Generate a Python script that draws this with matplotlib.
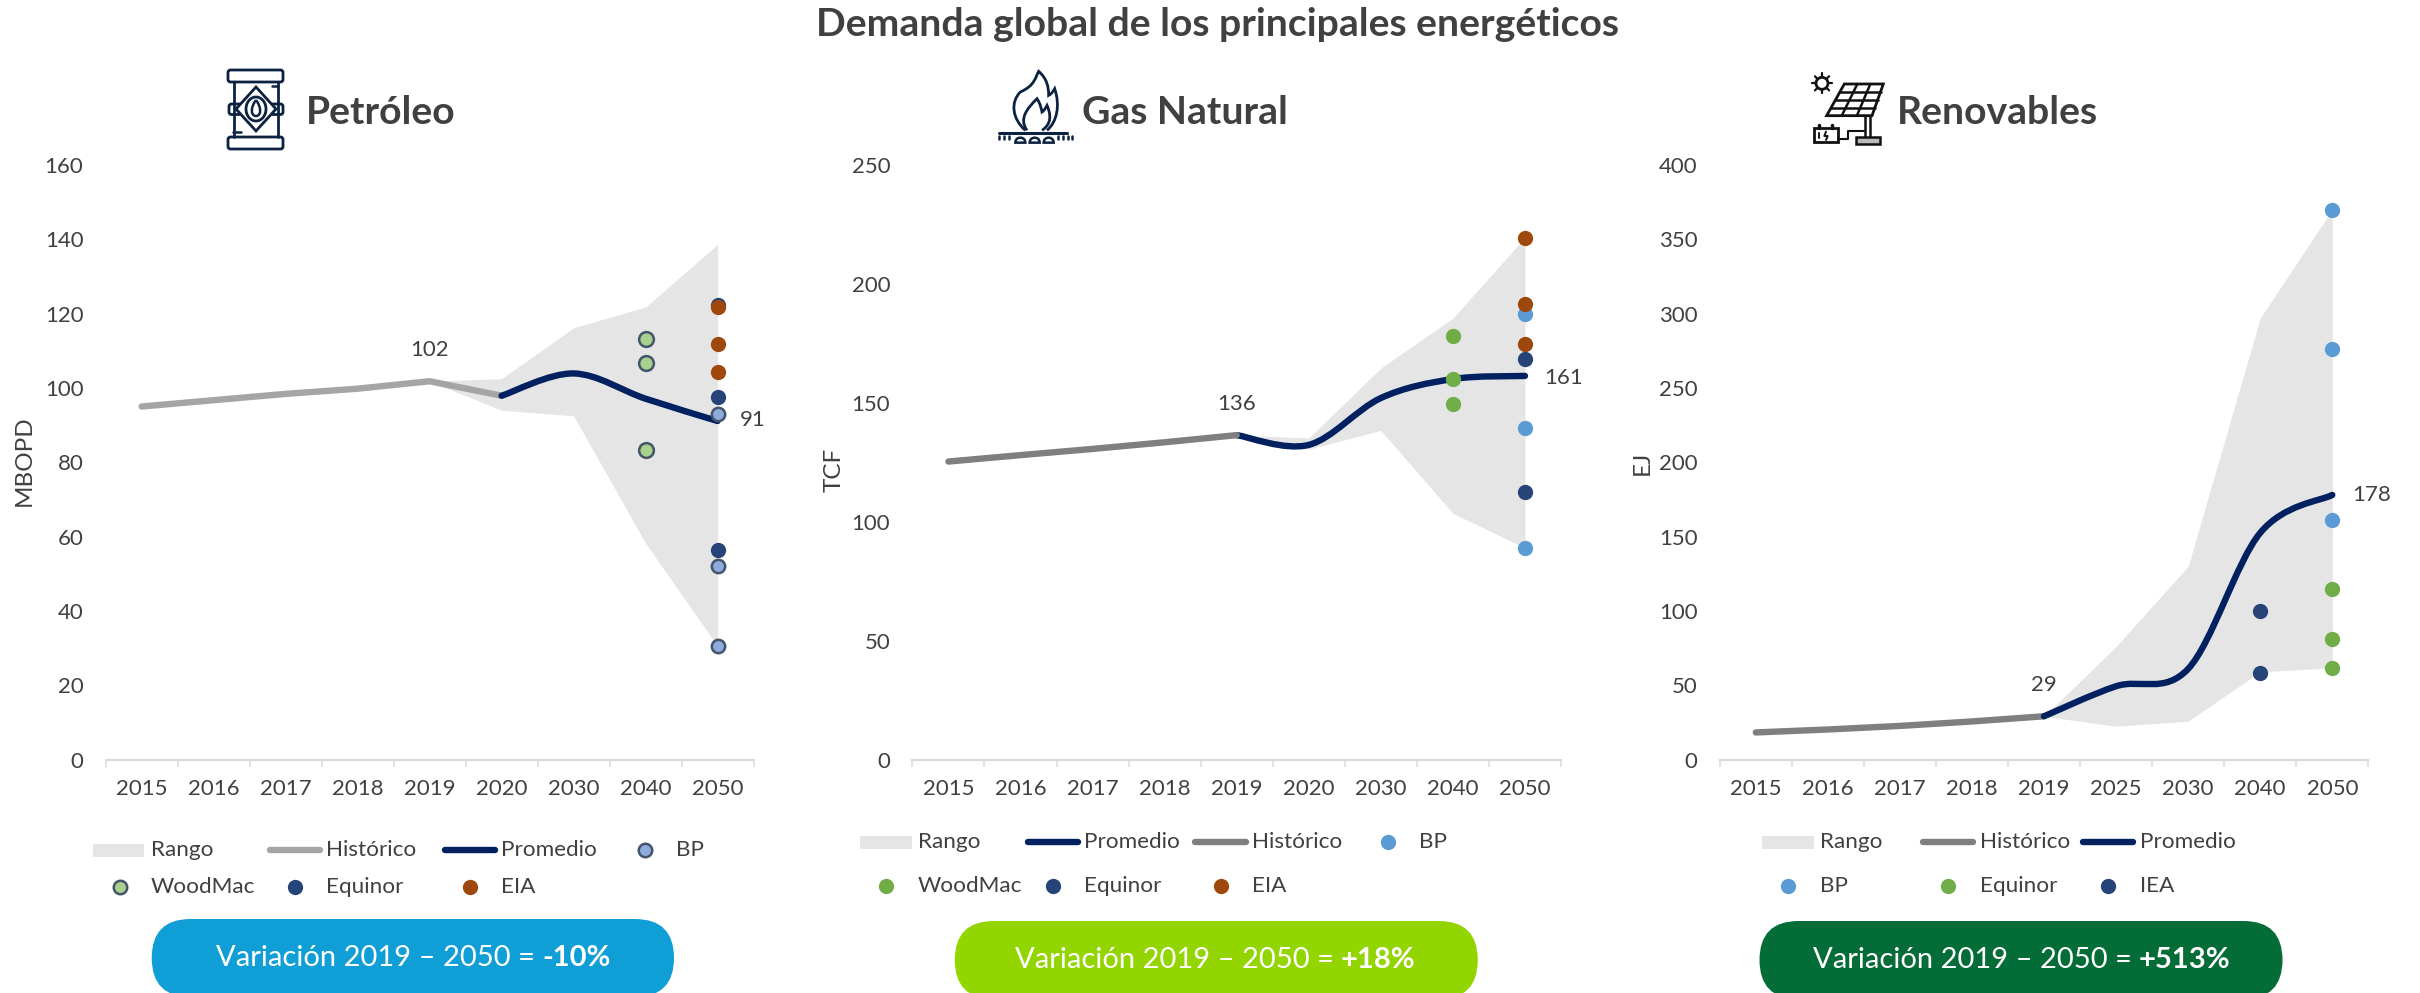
import matplotlib
matplotlib.use("Agg")
import matplotlib.pyplot as plt
from matplotlib.path import Path
from matplotlib.patches import PathPatch, FancyBboxPatch, Rectangle, Circle, Polygon, Ellipse
import numpy as np

plt.rcParams['font.family'] = ['Lato', 'DejaVu Sans']

# ---------- data ----------
cats_a = ['2015', '2016', '2017', '2018', '2019', '2020', '2030', '2040', '2050']
cats_c = ['2015', '2016', '2017', '2018', '2019', '2025', '2030', '2040', '2050']

oil_hist = [95.0, 96.7, 98.4, 99.8, 101.8, 97.9]
oil_prom = [97.9, 103.9, 97.1, 91.1]
oil_hi = [101.8, 102.5, 116.2, 121.8, 138.6]
oil_lo = [101.8, 94.0, 92.5, 58.2, 30.5]
oil_bp = [93.1, 52.1, 30.6]
oil_wm = [113.3, 106.6, 83.2]
oil_eq = [122.2, 97.6, 56.4]
oil_eia = [121.8, 111.7, 104.4]

gas_hist = [125.3, 128.0, 130.6, 133.4, 136.4]
gas_prom = [136.4, 132.3, 152.0, 160.0, 161.3]
gas_hi = [136.4, 135.2, 164.6, 185.6, 219.5]
gas_lo = [136.4, 130.5, 138.4, 103.5, 89.0]
gas_bp = [187.4, 139.5, 89.0]
gas_wm = [178.3, 160.0, 149.4]
gas_eq = [168.5, 112.5]
gas_eia = [219.5, 191.5, 174.7]

ren_hist = [18.2, 20.2, 22.6, 25.6, 29.1]
ren_prom = [29.1, 49.3, 61.0, 152.5, 178.0]
ren_hi = [29.1, 76.0, 130.0, 297.0, 370.0]
ren_lo = [29.1, 22.4, 25.8, 59.0, 61.7]
ren_bp = [369.9, 276.5, 161.0]
ren_eq = [114.8, 81.0, 61.7]
ren_iea = [100.0, 58.5]

# ---------- style ----------
W, H = 2420, 993
TXT = '#404040'
NAVY = '#002060'
FILL = '#E5E5E5'
BP1 = '#8FAADC'; WM1 = '#A9D18E'; EDGE = '#44546A'
BLUE = '#5B9BD5'; GREEN = '#70AD47'; DARK = '#264478'; RUST = '#9E480E'
px = 0.72  # points per pixel at dpi 100
TICK = 16; LEG = 16.2

fig = plt.figure(figsize=(W / 100, H / 100), dpi=100, facecolor='white')


def make_axes(x0, x1, ymax, step, cats, ylabel, ylabel_x, ylabel_y):
    top, bot = 165, 759.5
    ax = fig.add_axes([x0 / W, 1 - bot / H, (x1 - x0) / W, (bot - top) / H])
    ax.patch.set_alpha(0)
    ax.set_xlim(-0.5, 8.5)
    ax.set_ylim(0, ymax)
    for s in ['top', 'right', 'left']:
        ax.spines[s].set_visible(False)
    ax.spines['bottom'].set_color('#D9D9D9')
    ax.spines['bottom'].set_linewidth(2 * px)
    ax.set_xticks(np.arange(-0.5, 9, 1))
    ax.set_xticklabels([])
    ax.set_xticks(np.arange(9), minor=True)
    ax.set_xticklabels(cats, minor=True, fontsize=TICK, color=TXT)
    ax.tick_params(axis='x', which='major', length=7 * px, width=1.5 * px, color='#D9D9D9')
    ax.tick_params(axis='x', which='minor', length=0, pad=14)
    ax.set_yticks(np.arange(0, ymax + 1, step))
    ax.tick_params(axis='y', length=0, pad=16, labelsize=TICK, labelcolor=TXT)
    fig.text(ylabel_x / W, 1 - ylabel_y / H, ylabel, rotation=90, ha='center', va='center',
             fontsize=17.5, color=TXT)
    return ax


def smooth(ax, xs, ys, **kw):
    """Excel-style smoothed line: cubic Bezier segments through the data points."""
    P = np.column_stack([xs, ys]).astype(float)
    verts = [P[0]]
    codes = [Path.MOVETO]
    n = len(P)
    for i in range(n - 1):
        p0 = P[max(i - 1, 0)]; p1 = P[i]; p2 = P[i + 1]; p3 = P[min(i + 2, n - 1)]
        verts += [p1 + (p2 - p0) / 6, p2 - (p3 - p1) / 6, p2]
        codes += [Path.CURVE4] * 3
    ax.add_patch(PathPatch(Path(verts, codes), fill=False, capstyle='round', **kw))


def pts(ax, x, y, color, edge=None, z=5, ms=None):
    if edge:
        ax.plot(x, y, ls='', marker='o', ms=ms, mfc=color, mec=edge, mew=1.8, zorder=z, clip_on=False)
    else:
        ax.plot(x, y, ls='', marker='o', ms=11, mfc=color, mec='none', zorder=z, clip_on=False)


# --- oil
a1 = make_axes(105.6, 753.6, 160, 20, cats_a, 'MBOPD', 24, 461)
a1.fill_between([4, 5, 6, 7, 8], oil_lo, oil_hi, color=FILL, lw=0, zorder=1)
a1.plot(range(6), oil_hist, color='#A5A5A5', lw=4.6, solid_capstyle='round', zorder=2)
smooth(a1, [5, 6, 7, 8], oil_prom, color=NAVY, lw=4.6, zorder=3)
pts(a1, [8, 8, 8], oil_eq, DARK, z=4)
pts(a1, [8, 8, 8], oil_eia, RUST, z=5)
pts(a1, [7, 7, 7], oil_wm, WM1, EDGE, z=6, ms=10.6)
pts(a1, [8, 8, 8], oil_bp, BP1, EDGE, z=7, ms=9.6)
a1.annotate('102', (4, oil_hist[4]), xytext=(0, 31 * px), textcoords='offset points',
            ha='center', va='center', fontsize=TICK, color=TXT)
a1.annotate('91', (8, oil_prom[3]), xytext=(35 * px, 1 * px), textcoords='offset points',
            ha='center', va='center', fontsize=TICK, color=TXT)

# --- gas
a2 = make_axes(912.4, 1561, 250, 50, cats_a, 'TCF', 834, 470)
a2.fill_between([4, 5, 6, 7, 8], gas_lo, gas_hi, color=FILL, lw=0, zorder=1)
a2.plot(range(5), gas_hist, color='#7F7F7F', lw=4.6, solid_capstyle='round', zorder=3)
smooth(a2, [4, 5, 6, 7, 8], gas_prom, color=NAVY, lw=4.6, zorder=2)
pts(a2, [8, 8, 8], gas_bp, BLUE, z=4)
pts(a2, [7, 7, 7], gas_wm, GREEN, z=5)
pts(a2, [8, 8, 8], gas_eia, RUST, z=6)
pts(a2, [8, 8], gas_eq, DARK, z=7)
a2.annotate('136', (4, gas_hist[4]), xytext=(0, 31 * px), textcoords='offset points',
            ha='center', va='center', fontsize=TICK, color=TXT)
a2.annotate('161', (8, gas_prom[4]), xytext=(39 * px, -2 * px), textcoords='offset points',
            ha='center', va='center', fontsize=TICK, color=TXT)

# --- renewables
a3 = make_axes(1719.8, 2368.3, 400, 50, cats_c, 'EJ', 1642, 463)
a3.fill_between([4, 5, 6, 7, 8], ren_lo, ren_hi, color=FILL, lw=0, zorder=1)
a3.plot(range(5), ren_hist, color='#7F7F7F', lw=4.6, solid_capstyle='round', zorder=2)
smooth(a3, [4, 5, 6, 7, 8], ren_prom, color=NAVY, lw=4.6, zorder=3)
pts(a3, [8, 8, 8], ren_bp, BLUE, z=4)
pts(a3, [8, 8, 8], ren_eq, GREEN, z=5)
pts(a3, [7, 7], ren_iea, DARK, z=6)
a3.annotate('29', (4, ren_hist[4]), xytext=(0, 31 * px), textcoords='offset points',
            ha='center', va='center', fontsize=TICK, color=TXT)
a3.annotate('178', (8, ren_prom[4]), xytext=(39 * px, 0), textcoords='offset points',
            ha='center', va='center', fontsize=TICK, color=TXT)

# ---------- overlay in pixel coordinates (titles, legends, pills, icons) ----------
ov = fig.add_axes([0, 0, 1, 1], zorder=20)
ov.set_xlim(0, W); ov.set_ylim(H, 0); ov.axis('off'); ov.patch.set_alpha(0)

ov.text(1217, 24, 'Demanda global de los principales energéticos', ha='center', va='center',
        fontsize=28.2, fontweight='bold', color=TXT)
for x, s in [(306, 'Petróleo'), (1082, 'Gas Natural'), (1897, 'Renovables')]:
    ov.text(x, 113, s, ha='left', va='center', fontsize=28.2, fontweight='bold', color=TXT)


def leg_patch(x0, x1, y, tx):
    ov.add_patch(Rectangle((x0, y - 6.5), x1 - x0, 13, fc=FILL, ec='none'))
    ov.text(tx, y, 'Rango', ha='left', va='center', fontsize=LEG, color=TXT)


def leg_line(x0, x1, y, tx, label, color):
    ov.plot([x0 + 3, x1 - 3], [y, y], color=color, lw=4.6, solid_capstyle='round')
    ov.text(tx, y, label, ha='left', va='center', fontsize=LEG, color=TXT)


def leg_dot(x, y, tx, label, color, edge=None):
    if edge:
        ov.plot([x], [y], ls='', marker='o', ms=9.7, mfc=color, mec=edge, mew=1.8)
    else:
        ov.plot([x], [y], ls='', marker='o', ms=11, mfc=color, mec='none')
    ov.text(tx, y, label, ha='left', va='center', fontsize=LEG, color=TXT)


# legend 1
leg_patch(93, 144, 850, 150.6)
leg_line(267, 323, 850, 326, 'Histórico', '#A5A5A5')
leg_line(442, 498, 850, 501, 'Promedio', NAVY)
leg_dot(645, 850, 676, 'BP', BP1, EDGE)
leg_dot(120, 887, 150.6, 'WoodMac', WM1, EDGE)
leg_dot(294.5, 887, 326, 'Equinor', DARK)
leg_dot(470, 887, 501, 'EIA', RUST)
# legend 2
leg_patch(860, 912, 842, 917.7)
leg_line(1025, 1081, 842, 1084.5, 'Promedio', NAVY)
leg_line(1192, 1249, 842, 1252, 'Histórico', '#7F7F7F')
leg_dot(1388, 842, 1419, 'BP', BLUE)
leg_dot(886, 886, 917.7, 'WoodMac', GREEN)
leg_dot(1053, 886, 1084.5, 'Equinor', DARK)
leg_dot(1220.5, 886, 1252, 'EIA', RUST)
# legend 3
leg_patch(1762, 1814, 842, 1820)
leg_line(1920, 1976, 842, 1980, 'Histórico', '#7F7F7F')
leg_line(2080, 2136, 842, 2140, 'Promedio', NAVY)
leg_dot(1788, 886, 1820, 'BP', BLUE)
leg_dot(1948, 886, 1980, 'Equinor', GREEN)
leg_dot(2108, 886, 2140, 'IEA', DARK)


def pill(x0, x1, y0, color, split, bold, yc):
    y1 = y0 + 78
    r = 39
    ov.add_patch(FancyBboxPatch((x0 + r, y0 + r), x1 - x0 - 2 * r, y1 - y0 - 2 * r,
                                boxstyle=f'round,pad={r},rounding_size={r}', fc=color, ec='none'))
    ov.text(split, yc, 'Variación 2019 – 2050 = ', ha='right', va='center', fontsize=21,
            color='white')
    ov.text(split, yc, bold, ha='left', va='center', fontsize=21, fontweight='bold', color='white')


pill(151.7, 674, 919, '#0F9FD6', 542, '-10%', 958)
pill(954.8, 1477.8, 921, '#93D500', 1341, '+18%', 960)
pill(1759.5, 2282.5, 921, '#046C36', 2139, '+513%', 960)

# ---------- icons (line drawings) ----------
IC = '#0B2340'
def ln(xs, ys, lw=2.0, c=IC):
    ov.plot(xs, ys, color=c, lw=lw, solid_capstyle='round', solid_joinstyle='round')


# barrel
for y in (70, 137):
    ov.add_patch(FancyBboxPatch((229.5, y + 1.5), 52, 9, boxstyle='round,pad=1.5,rounding_size=2.5',
                                fc='white', ec=IC, lw=2))
ln([233.5, 233.5], [82, 137]); ln([278, 278], [82, 137])
ov.add_patch(FancyBboxPatch((230, 105), 52, 8.5, boxstyle='round,pad=1,rounding_size=2.5',
                            fc='white', ec=IC, lw=2))
ov.add_patch(Polygon([(256, 87), (276, 109), (256, 131), (236, 109)], closed=True, fc='white', ec=IC, lw=2))
ov.add_patch(Ellipse((256, 109), 20, 24, fc='white', ec=IC, lw=2))
ov.add_patch(PathPatch(Path([(256, 100), (250, 108), (251, 116), (256, 116), (261, 116), (262, 108), (256, 100)],
                            [Path.MOVETO] + [Path.CURVE4] * 6), fc='white', ec=IC, lw=1.8))
ln([272, 278], [86, 86], 1.8); ln([233, 241], [132, 132], 1.8)

# flame
o = (992, 62)
def fz(p):
    return [(o[0] + a / 3, o[1] + b / 3) for a, b in p]

outer = fz([(100, 205), (60, 170), (55, 120), (85, 90), (130, 70), (130, 45), (140, 28),
            (165, 50), (170, 75), (170, 100), (180, 95), (185, 85), (188, 80), (205, 130), (195, 180), (165, 205)])
ov.add_patch(PathPatch(Path(outer, [Path.MOVETO] + [Path.CURVE4] * 15), fill=False, ec=IC, lw=2))
inner = fz([(105, 205), (80, 170), (105, 140), (135, 110), (145, 125), (148, 140), (150, 150),
            (158, 145), (162, 135), (165, 130), (185, 175), (165, 195), (150, 205)])
ov.add_patch(PathPatch(Path(inner, [Path.MOVETO] + [Path.CURVE4] * 12), fill=False, ec=IC, lw=2))
ln(*zip(*fz([(20, 212), (225, 212)])), 2.2)
for a in (20, 35, 50, 198, 212, 228, 240):
    ln(*zip(*fz([(a, 222), (a, 232)])), 1.8)
for a in (85, 128, 170):
    ov.add_patch(PathPatch(Path(fz([(a - 15, 242), (a - 15, 222), (a + 15, 222), (a + 15, 242), (a - 15, 242)]),
                                [Path.MOVETO, Path.CURVE4, Path.CURVE4, Path.CURVE4, Path.CLOSEPOLY]),
                           fc='white', ec=IC, lw=1.8))

# solar
o = (1806, 64)
K = '#111111'
cx, cy = fz([(48, 58)])[0]
ov.add_patch(Circle((cx, cy), 6, fc='white', ec=K, lw=2))
for ang in np.deg2rad(np.arange(0, 360, 45)):
    ln([cx + 7.5 * np.cos(ang), cx + 10 * np.cos(ang)], [cy + 7.5 * np.sin(ang), cy + 10 * np.sin(ang)], 1.6, K)
tl, tr, br, bl = (115, 60), (232, 60), (198, 155), (62, 155)
ov.add_patch(Polygon(fz([tl, tr, br, bl]), closed=True, fc='white', ec=K, lw=2))
for f in (1 / 3, 2 / 3):
    a = (tl[0] + f * (tr[0] - tl[0]), 60); b = (bl[0] + f * (br[0] - bl[0]), 155)
    ln(*zip(*fz([a, b])), 1.8, K)
for f in (.25, .5, .75):
    a = (tl[0] + f * (bl[0] - tl[0]), 60 + f * 95); b = (tr[0] + f * (br[0] - tr[0]), 60 + f * 95)
    ln(*zip(*fz([a, b])), 1.8, K)
ln(*zip(*fz([(178, 155), (178, 215)])), 1.8, K); ln(*zip(*fz([(192, 155), (192, 215)])), 1.8, K)
xy = fz([(150, 218)])[0]
ov.add_patch(Rectangle(xy, 24, 7, fc='#BBBBBB', ec=K, lw=1.8))
xy = fz([(25, 193)])[0]
ov.add_patch(Rectangle(xy, 24, 14, fc='white', ec=K, lw=2))
ln(*zip(*fz([(38, 193), (38, 182)])), 2.5, K); ln(*zip(*fz([(78, 193), (78, 182)])), 2.5, K)
ln(*zip(*fz([(60, 203), (55, 216), (65, 216), (60, 228)])), 1.4, K)
ln(*zip(*fz([(38, 208), (38, 222)])), 1.4, K)
ln(*zip(*fz([(97, 225), (125, 225), (125, 200), (175, 200)])), 1.5, K)

fig.savefig('out.png', dpi=100)
